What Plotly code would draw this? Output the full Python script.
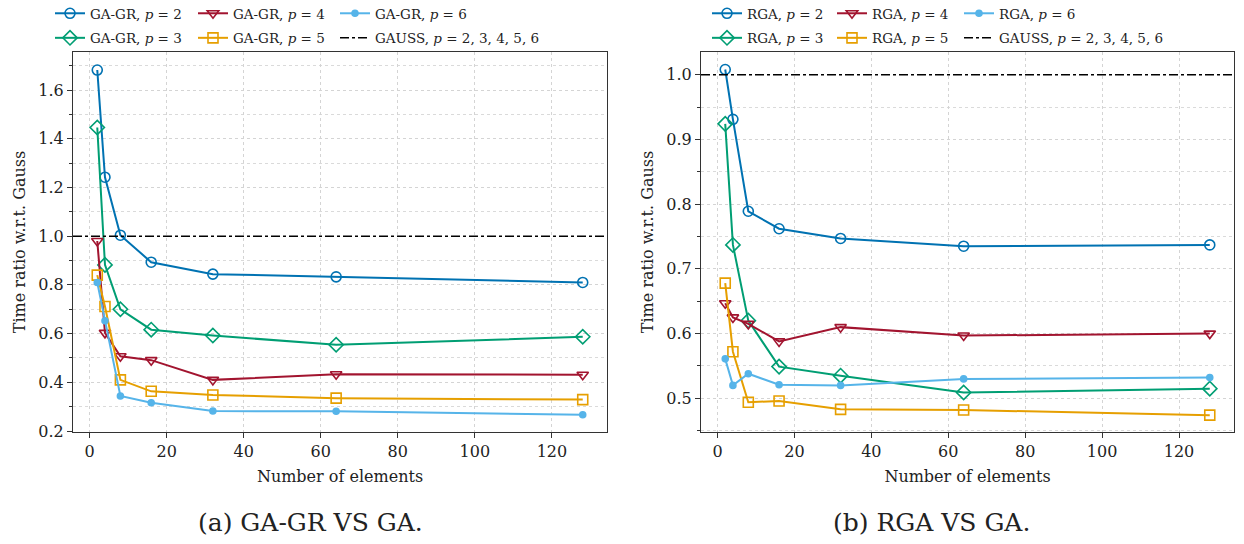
import plotly.graph_objects as go

# ---------------- data ----------------
elements = [2, 4, 8, 16, 32, 64, 128]

gagr_p2 = [1.682, 1.242, 1.004, 0.893, 0.844, 0.833, 0.810]
gagr_p3 = [1.446, 0.882, 0.700, 0.616, 0.592, 0.554, 0.587]
gagr_p4 = [0.980, 0.603, 0.507, 0.491, 0.410, 0.433, 0.431]
gagr_p5 = [0.840, 0.711, 0.410, 0.363, 0.348, 0.335, 0.329]
gagr_p6 = [0.810, 0.653, 0.344, 0.316, 0.282, 0.281, 0.267]

rga_p2 = [1.008, 0.931, 0.789, 0.762, 0.747, 0.735, 0.737]
rga_p3 = [0.924, 0.737, 0.620, 0.549, 0.535, 0.509, 0.515]
rga_p4 = [0.647, 0.625, 0.615, 0.588, 0.610, 0.597, 0.600]
rga_p5 = [0.678, 0.572, 0.494, 0.496, 0.483, 0.482, 0.474]
rga_p6 = [0.561, 0.520, 0.538, 0.521, 0.520, 0.530, 0.532]

gauss_ratio = 1.0
degrees = [2, 3, 4, 5, 6]
x_range = [-4.3, 134.3]

colors = {2: "#0072B2", 3: "#009E73", 4: "#A2142F", 5: "#E69F00", 6: "#56B4E9"}
symbols = {2: "circle-open", 3: "diamond-open", 4: "triangle-down-open", 5: "square-open", 6: "circle"}
msizes = {2: 10, 3: 11, 4: 10, 5: 10, 6: 6}
# legend column for each series: col 0 -> p2,p3 ; col 1 -> p4,p5 ; col 2 -> p6, gauss
col_of = {2: 0, 3: 0, 4: 1, 5: 1, 6: 2}
rank = {2: 1, 3: 2, 4: 1, 5: 2, 6: 1}

FONT = "DejaVu Serif"
W, H = 1244, 544

fig = go.Figure()

def legend_name(panel, col):
    idx = panel * 3 + col + 1
    return "legend" if idx == 1 else f"legend{idx}"

def add_panel(panel, name, series, xa, ya):
    for p, vals in zip(degrees, series):
        fig.add_trace(go.Scatter(
            x=elements, y=vals, mode="lines+markers",
            name=f"{name}, <i>p</i> = {p}",
            line=dict(color=colors[p], width=2),
            marker=dict(symbol=symbols[p], size=msizes[p], color=colors[p],
                        line=dict(width=1.6, color=colors[p])),
            xaxis=xa, yaxis=ya, legend=legend_name(panel, col_of[p]), legendrank=rank[p],
            legendgroup=f"{name}{p}",
        ))
    fig.add_trace(go.Scatter(
        x=x_range, y=[gauss_ratio, gauss_ratio], mode="lines",
        name="GAUSS, <i>p</i> = " + ", ".join(str(d) for d in degrees),
        line=dict(color="black", width=1.5, dash="dashdot"),
        xaxis=xa, yaxis=ya, legend=legend_name(panel, 2), legendrank=2,
        legendgroup=f"{name}gauss",
    ))

add_panel(0, "GA-GR", [gagr_p2, gagr_p3, gagr_p4, gagr_p5, gagr_p6], "x", "y")
add_panel(1, "RGA", [rga_p2, rga_p3, rga_p4, rga_p5, rga_p6], "x2", "y2")

grid = dict(showgrid=True, gridcolor="#d4d4d4", griddash="dot", gridwidth=1)
common_axis = dict(showline=True, linecolor="#333", linewidth=1.2, mirror=True,
                   ticks="outside", ticklen=5, tickcolor="#333",
                   tickfont=dict(family=FONT, size=16, color="#222"),
                   zeroline=False, **grid)
title_font = dict(family=FONT, size=16, color="#222")

y_dom = [(H - 432) / H, (H - 52) / H]

legend_cols_px = [[50, 193, 335], [707, 832, 959]]
legends = {}
for panel in range(2):
    for col in range(3):
        legends[legend_name(panel, col)] = dict(
            orientation="v", x=legend_cols_px[panel][col] / W, y=1.0 + 2 / H,
            xanchor="left", yanchor="top",
            font=dict(family=FONT, size=13.5, color="#222"),
            bgcolor="rgba(0,0,0,0)", tracegroupgap=4, itemwidth=30,
        )

fig.update_layout(
    width=W, height=H,
    margin=dict(l=0, r=0, t=0, b=0, autoexpand=False),
    paper_bgcolor="white", plot_bgcolor="white",
    font=dict(family=FONT, color="#222"),
    showlegend=True,
    xaxis=dict(domain=[73 / W, 607 / W], range=x_range, dtick=20, tick0=0,
               title=dict(text="Number of elements", font=title_font, standoff=10),
               anchor="y", **common_axis),
    yaxis=dict(domain=y_dom, range=[0.196, 1.756], dtick=0.2, tick0=0, tickformat=".1f",
               title=dict(text="Time ratio w.r.t. Gauss", font=title_font, standoff=8),
               minor=dict(dtick=0.1, ticks="outside", ticklen=3, tickcolor="#333",
                          showgrid=True, gridcolor="#dadada", griddash="dot"),
               anchor="x", **common_axis),
    xaxis2=dict(domain=[701 / W, 1234 / W], range=x_range, dtick=20, tick0=0,
                title=dict(text="Number of elements", font=title_font, standoff=10),
                anchor="y2", **common_axis),
    yaxis2=dict(domain=y_dom, range=[0.448, 1.035], dtick=0.1, tick0=0, tickformat=".1f",
                title=dict(text="Time ratio w.r.t. Gauss", font=title_font, standoff=8),
                minor=dict(dtick=0.05, ticks="outside", ticklen=3, tickcolor="#333",
                           showgrid=True, gridcolor="#dadada", griddash="dot"),
                anchor="x2", **common_axis),
    annotations=[
        dict(text="(a) GA-GR VS GA.", x=310 / W, y=(H - 522) / H, xref="paper", yref="paper",
             xanchor="center", yanchor="middle",
             showarrow=False, font=dict(family=FONT, size=25, color="#222")),
        dict(text="(b) RGA VS GA.", x=932 / W, y=(H - 522) / H, xref="paper", yref="paper",
             xanchor="center", yanchor="middle",
             showarrow=False, font=dict(family=FONT, size=25, color="#222")),
    ],
    **legends,
)

fig.write_html("out.html", config={"displayModeBar": False},
               post_script="document.body.style.margin='0';")
